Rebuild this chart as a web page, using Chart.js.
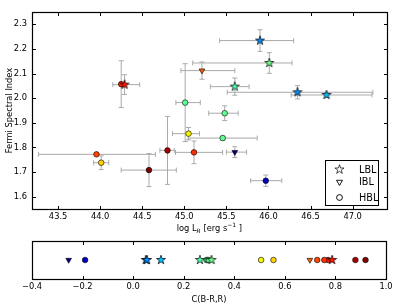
<!DOCTYPE html>
<html>
<head>
<meta charset="utf-8">
<script src="https://cdn.jsdelivr.net/npm/chart.js@4.4.0/dist/chart.umd.min.js"></script>
<style>
  body { margin: 0; background: #fff; width: 407px; height: 305px; overflow: hidden; position: relative; }
  #box1 { position: absolute; left: 0; top: 0; width: 407px; height: 235px; }
  #box2 { position: absolute; left: 0; top: 235px; width: 407px; height: 70px; }
</style>
</head>
<body>
<div id="box1"><canvas id="main"></canvas></div>
<div id="box2"><canvas id="colour"></canvas></div>
<script>
// sources: class, log L_R (with lower/upper error), Fermi index (+- error), colour C(B-R,R)
const blazarClass = ["LBL", "LBL", "LBL", "LBL", "LBL", "LBL", "IBL", "IBL",
  "HBL", "HBL", "HBL", "HBL", "HBL", "HBL", "HBL", "HBL", "HBL", "HBL", "HBL"];
const logLR    = [44.29, 45.90, 46.01, 45.60, 46.345, 46.69, 45.21, 45.60,
  44.25, 45.01, 45.48, 45.05, 45.456, 45.115, 44.80, 44.58, 43.956, 44.012, 45.968];
const logLRlo  = [0.14, 0.48, 0.91, 0.29, 0.835, 0.42, 0.25, 0.10,
  0.00, 0.11, 0.19, 0.19, 0.41, 0.22, 0.09, 0.33, 0.69, 0.09, 0.18];
const logLRhi  = [0.18, 0.40, 0.27, 0.17, 0.895, 0.54, 0.39, 0.14,
  0.00, 0.18, 0.16, 0.13, 0.41, 0.34, 0.08, 0.325, 0.70, 0.09, 0.19];
const fermiIdx = [2.055, 2.234, 2.143, 2.047, 2.024, 2.013, 2.112, 1.781,
  2.057, 1.982, 1.939, 1.856, 1.838, 1.780, 1.788, 1.708, 1.772, 1.738, 1.665];
const fermiErr = [0.040, 0.044, 0.042, 0.035, 0.027, 0.010, 0.035, 0.022,
  0.095, 0.158, 0.030, 0.025, 0.008, 0.046, 0.138, 0.067, 0.005, 0.028, 0.023];
const colourBR = [0.787, 0.050, 0.310, 0.264, 0.055, 0.110, 0.699, -0.255,
  0.771, 0.290, 0.295, 0.506, 0.300, 0.756, 0.879, 0.919, 0.728, 0.555, -0.190];

const xTicksMain = [43.5, 44.0, 44.5, 45.0, 45.5, 46.0, 46.5, 47.0];
const yTicksMain = [1.6, 1.7, 1.8, 1.9, 2.0, 2.1, 2.2, 2.3];
const xTicksColour = [-0.4, -0.2, 0.0, 0.2, 0.4, 0.6, 0.8, 1.0];

const FONT = "'DejaVu Sans', sans-serif";

// matplotlib "jet"
const jetR = [[0, 0], [0.35, 0], [0.66, 1], [0.89, 1], [1, 0.5]];
const jetG = [[0, 0], [0.125, 0], [0.375, 1], [0.64, 1], [0.91, 0], [1, 0]];
const jetB = [[0, 0.5], [0.11, 1], [0.34, 1], [0.65, 0], [1, 0]];
function seg(pts, t) {
  for (let i = 1; i < pts.length; i++) {
    if (t <= pts[i][0]) {
      const f = (t - pts[i - 1][0]) / (pts[i][0] - pts[i - 1][0]);
      return pts[i - 1][1] + f * (pts[i][1] - pts[i - 1][1]);
    }
  }
  return pts[pts.length - 1][1];
}
const cMin = Math.min(...colourBR), cMax = Math.max(...colourBR);
function jet(c) {
  const t = Math.max(0, Math.min(1, (c - cMin) / (cMax - cMin)));
  const to = v => Math.round(v * 255);
  return `rgb(${to(seg(jetR, t))},${to(seg(jetG, t))},${to(seg(jetB, t))})`;
}

function starPath(g, cx, cy, R) {
  const r = R * 0.382;
  g.beginPath();
  for (let k = 0; k < 10; k++) {
    const rad = k % 2 ? r : R;
    const a = -Math.PI / 2 + k * Math.PI / 5;
    g.lineTo(cx + rad * Math.cos(a), cy + rad * Math.sin(a));
  }
  g.closePath();
}
function starImage(fill) {
  const c = document.createElement("canvas");
  c.width = c.height = 12;
  const g = c.getContext("2d");
  starPath(g, 6, 6, 4.8);
  g.fillStyle = fill;
  g.fill();
  g.lineWidth = 0.7;
  g.strokeStyle = "#000";
  g.stroke();
  return c;
}

const markers = {
  LBL: { style: "star", radius: 5, rot: 0 },
  IBL: { style: "triangle", radius: 3.3, rot: 180 },
  HBL: { style: "circle", radius: 2.8, rot: 0 },
};

// one dataset per class, stars on top
function buildSets(useColour) {
  return ["LBL", "IBL", "HBL"].map(k => {
    const idx = blazarClass.map((c, i) => (c === k ? i : -1)).filter(i => i >= 0);
    const cols = idx.map(i => jet(colourBR[i]));
    return {
      label: k,
      data: idx.map(i => ({ x: useColour ? colourBR[i] : logLR[i], y: useColour ? 0 : fermiIdx[i] })),
      errLo: useColour ? null : idx.map(i => logLRlo[i]),
      errHi: useColour ? null : idx.map(i => logLRhi[i]),
      errY: useColour ? null : idx.map(i => fermiErr[i]),
      backgroundColor: cols,
      borderColor: "#000",
      borderWidth: 0.6,
      pointStyle: k === "LBL" ? cols.map(starImage) : markers[k].style,
      pointRadius: markers[k].radius,
      rotation: markers[k].rot,
    };
  });
}

const errorBars = {
  id: "errorBars",
  beforeDatasetsDraw(chart) {
    const { ctx } = chart;
    const xs = chart.scales.x, ys = chart.scales.y;
    ctx.save();
    ctx.strokeStyle = "#aaaaaa";
    ctx.lineWidth = 1;
    const cap = 2.5;
    chart.data.datasets.forEach(ds => {
      if (!ds.errY) return;
      ds.data.forEach((p, i) => {
        const px = xs.getPixelForValue(p.x), py = ys.getPixelForValue(p.y);
        ctx.beginPath();
        if (ds.errLo[i] + ds.errHi[i] > 0) {
          const x0 = xs.getPixelForValue(p.x - ds.errLo[i]);
          const x1 = xs.getPixelForValue(p.x + ds.errHi[i]);
          ctx.moveTo(x0, py); ctx.lineTo(x1, py);
          ctx.moveTo(x0, py - cap); ctx.lineTo(x0, py + cap);
          ctx.moveTo(x1, py - cap); ctx.lineTo(x1, py + cap);
        }
        const y0 = ys.getPixelForValue(p.y - ds.errY[i]);
        const y1 = ys.getPixelForValue(p.y + ds.errY[i]);
        ctx.moveTo(px, y0); ctx.lineTo(px, y1);
        ctx.moveTo(px - cap, y0); ctx.lineTo(px + cap, y0);
        ctx.moveTo(px - cap, y1); ctx.lineTo(px + cap, y1);
        ctx.stroke();
      });
    });
    ctx.restore();
  },
};

// black frame with inward ticks, like matplotlib
const frame = {
  id: "frame",
  afterDraw(chart, args, opts) {
    const { ctx, chartArea: a } = chart;
    const L = Math.round(a.left) + 0.5, R = Math.round(a.right) + 0.5;
    const T = Math.round(a.top) + 0.5, B = Math.round(a.bottom) + 0.5;
    ctx.save();
    ctx.strokeStyle = "#000";
    ctx.lineWidth = 1;
    ctx.beginPath();
    chart.scales.x.ticks.forEach(t => {
      const p = Math.round(chart.scales.x.getPixelForValue(t.value)) + 0.5;
      ctx.moveTo(p, B); ctx.lineTo(p, B - 3.5);
      ctx.moveTo(p, T); ctx.lineTo(p, T + 3.5);
    });
    if (opts.yTicks) {
      chart.scales.y.ticks.forEach(t => {
        const p = Math.round(chart.scales.y.getPixelForValue(t.value)) + 0.5;
        ctx.moveTo(L, p); ctx.lineTo(L + 3.5, p);
        ctx.moveTo(R, p); ctx.lineTo(R - 3.5, p);
      });
    }
    ctx.stroke();
    ctx.lineWidth = 1.2;
    ctx.strokeRect(L, T, R - L, B - T);
    ctx.restore();
  },
};

// legend box with hollow markers
const markerLegend = {
  id: "markerLegend",
  afterDraw(chart) {
    const { ctx } = chart;
    ctx.save();
    ctx.fillStyle = "#fff";
    ctx.strokeStyle = "#000";
    ctx.lineWidth = 1;
    ctx.fillRect(325.5, 160.5, 53, 45);
    ctx.strokeRect(325.5, 160.5, 53, 45);
    const rows = [["LBL", 169.5], ["IBL", 182], ["HBL", 197.5]];
    rows.forEach(([name, y]) => {
      const m = markers[name];
      ctx.lineWidth = 0.7;
      if (name === "LBL") {
        starPath(ctx, 339.5, y, 4.8);
        ctx.fillStyle = "#fff"; ctx.fill(); ctx.stroke();
      } else {
        Chart.helpers.drawPoint(ctx, { pointStyle: m.style, radius: m.radius, rotation: m.rot, borderWidth: 0.7 }, 339.5, y);
        ctx.fillStyle = "#fff"; ctx.fill(); ctx.stroke();
      }
      ctx.fillStyle = "#000";
      ctx.font = `9.7px ${FONT}`;
      ctx.textBaseline = "middle";
      ctx.textAlign = "left";
      ctx.fillText(name, 359, y + 0.5);
    });
    ctx.restore();
  },
};

// x label with sub/superscript: log L_R [erg s^-1]
const xTitle = {
  id: "xTitle",
  afterDraw(chart) {
    const { ctx, chartArea: a } = chart;
    const parts = [
      ["log L", `8.3px ${FONT}`, 0],
      ["R", `italic 6px ${FONT}`, 2],
      [" [erg s", `8.3px ${FONT}`, 0],
      ["\u22121", `6px ${FONT}`, -3.5],
      [" ]", `8.3px ${FONT}`, 0],
    ];
    ctx.save();
    let w = 0;
    parts.forEach(p => { ctx.font = p[1]; w += ctx.measureText(p[0]).width; });
    let x = (a.left + a.right) / 2 - w / 2;
    const base = 230.5;
    ctx.fillStyle = "#000";
    ctx.textBaseline = "alphabetic";
    parts.forEach(p => {
      ctx.font = p[1];
      ctx.fillText(p[0], x, base + p[2]);
      x += ctx.measureText(p[0]).width;
    });
    ctx.restore();
  },
};

const tickFont = { family: FONT, size: 8.3 };
const fmt = v => (v < 0 ? "\u2212" + Math.abs(v).toFixed(1) : v.toFixed(1));

new Chart(document.getElementById("main"), {
  type: "scatter",
  data: { datasets: buildSets(false) },
  options: {
    responsive: true,
    maintainAspectRatio: false,
    animation: false,
    events: [],
    layout: { padding: { top: 12, right: 20.3, left: 0, bottom: 0 } },
    plugins: { legend: { display: false }, tooltip: { enabled: false }, frame: { yTicks: true } },
    scales: {
      x: {
        min: 43.19, max: 47.405,
        afterBuildTicks: s => { s.ticks = xTicksMain.map(v => ({ value: v })); },
        afterFit: s => { s.height = 26; },
        grid: { display: false, drawTicks: false },
        border: { display: false },
        ticks: { font: tickFont, color: "#000", padding: 3, callback: fmt, maxRotation: 0 },
      },
      y: {
        min: 1.55, max: 2.35,
        afterBuildTicks: s => { s.ticks = yTicksMain.map(v => ({ value: v })); },
        afterFit: s => { s.width = 32; },
        grid: { display: false, drawTicks: false },
        border: { display: false },
        ticks: { font: tickFont, color: "#000", padding: 5, callback: fmt },
        title: { display: true, text: "Fermi Spectral Index", font: tickFont, color: "#000", padding: { top: 5, bottom: 0 } },
      },
    },
  },
  plugins: [errorBars, frame, markerLegend, xTitle],
});

new Chart(document.getElementById("colour"), {
  type: "scatter",
  data: { datasets: buildSets(true) },
  options: {
    responsive: true,
    maintainAspectRatio: false,
    animation: false,
    events: [],
    layout: { padding: { top: 5.7, right: 21, left: 32, bottom: 0 } },
    plugins: { legend: { display: false }, tooltip: { enabled: false }, frame: { yTicks: false } },
    scales: {
      x: {
        min: -0.4, max: 1.0,
        afterBuildTicks: s => { s.ticks = xTicksColour.map(v => ({ value: v })); },
        afterFit: s => { s.height = 25.7; },
        grid: { display: false, drawTicks: false },
        border: { display: false },
        ticks: { font: tickFont, color: "#000", padding: 3, callback: fmt, maxRotation: 0 },
        title: { display: true, text: "C(B-R,R)", font: tickFont, color: "#000", padding: { top: 0, bottom: 0 } },
      },
      y: { display: false, min: -1, max: 1 },
    },
  },
  plugins: [frame],
});
</script>
</body>
</html>
